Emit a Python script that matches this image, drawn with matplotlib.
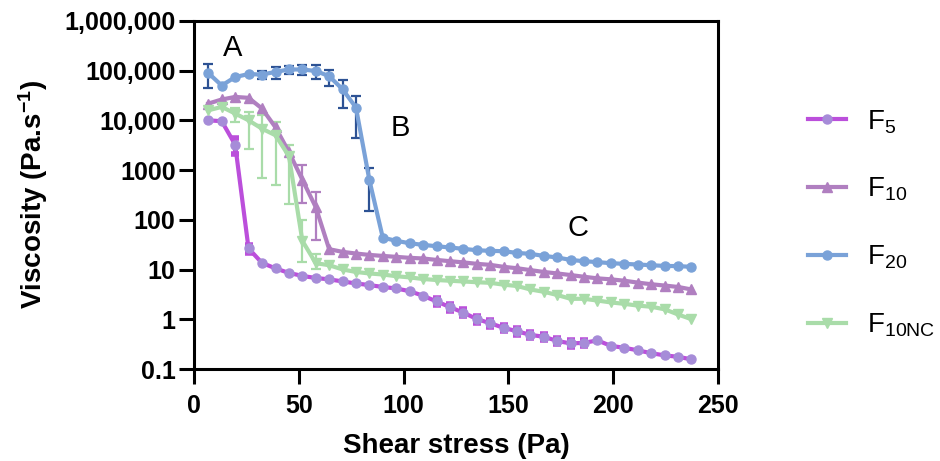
import numpy as np
import matplotlib
matplotlib.use("Agg")
import matplotlib.pyplot as plt
from matplotlib.ticker import FixedLocator, FixedFormatter, NullLocator

plt.rcParams['font.family'] = ['Liberation Sans', 'DejaVu Sans']
plt.rcParams['mathtext.fontset'] = 'custom'
plt.rcParams['mathtext.rm'] = 'Liberation Sans'
plt.rcParams['mathtext.bf'] = 'Liberation Sans:bold'
plt.rcParams['mathtext.it'] = 'Liberation Sans:italic'

# shear stress (Pa), shared by all series
shear = [6.7, 13.1, 19.5, 25.9, 32.3, 38.8, 45.2, 51.6, 58.0, 64.4, 70.8, 77.2,
         83.6, 90.0, 96.4, 102.8, 109.2, 115.7, 122.1, 128.5, 134.9, 141.3,
         147.7, 154.1, 160.5, 166.9, 173.3, 179.7, 186.1, 192.5, 198.9, 205.3,
         211.8, 218.2, 224.6, 231.0, 237.4]

# viscosity (Pa.s-1)
f5 = [10000, 9600, 3250, 26.7, 13.7, 10.6, 8.6, 7.5, 6.8, 6.4, 5.8, 5.3, 4.9,
      4.5, 4.2, 3.7, 3.0, 2.3, 1.77, 1.37, 1.02, 0.84, 0.68, 0.58, 0.49, 0.45,
      0.37, 0.33, 0.34, 0.38, 0.295, 0.27, 0.24, 0.21, 0.19, 0.178, 0.158]
f5_err = [0, 0, 1100, 5, 0, 0, 0, 0, 0, 0, 0, 0, 0, 0, 0, 0, 0, 0.35, 0.28,
          0.22, 0.16, 0.13, 0.1, 0.09, 0.075, 0.07, 0.055, 0.05, 0.05, 0, 0, 0,
          0, 0, 0, 0, 0]

f10 = [21700, 26200, 29500, 28300, 17300, 7200, 2300, 640, 180, 25.8, 22.8,
       21.1, 19.8, 18.9, 18.1, 17.3, 16.8, 15.7, 14.8, 14.0, 13.1, 12.5, 11.4,
       10.7, 9.8, 9.0, 8.4, 7.8, 7.2, 6.7, 6.4, 6.0, 5.5, 5.1, 4.8, 4.5, 4.0]
f10_lo = [0] * 7 + [426, 141] + [0] * 28
f10_up = [0] * 7 + [650, 185] + [0] * 28

f20 = [89000, 50000, 74000, 85000, 83000, 94000, 105000, 105000, 98000, 77000,
       42000, 18000, 630, 44, 38, 34, 31.5, 29.6, 27.9, 26.2, 24.6, 23.9, 23.5,
       21.7, 20.8, 18.9, 17.6, 15.7, 14.8, 14.2, 13.5, 13.1, 12.7, 12.3, 11.9,
       11.8, 11.4]
f20_err = [44000, 0, 0, 0, 14000, 25000, 21000, 25000, 31000, 27000, 24000,
           13500, 480] + [0] * 24

f10nc = [15900, 18600, 13700, 10000, 6800, 5000, 1900, 38, 13.5, 12.3, 10.1,
         9.0, 8.4, 8.0, 7.4, 7.0, 6.5, 6.2, 6.0, 5.8, 5.6, 5.45, 5.0, 4.7, 4.0,
         3.6, 3.1, 2.6, 2.6, 2.4, 2.2, 2.06, 1.9, 1.8, 1.6, 1.26, 1.01]
f10nc_lo = [0, 0, 4400, 7300, 6100, 4500, 1690, 24, 3] + [0] * 28
f10nc_up = [0, 0, 4300, 4700, 5900, 4300, 1270, 60, 7.5] + [0] * 28

yticks = [0.1, 1, 10, 100, 1000, 10000, 100000, 1000000]
ytick_labels = ['0.1', '1', '10', '100', '1000', '10,000', '100,000', '1,000,000']
xticks = [0, 50, 100, 150, 200, 250]

fig = plt.figure(figsize=(9.4, 4.61), dpi=100)
ax = fig.add_axes([0.2067, 0.199, 0.557, 0.756])

x = np.array(shear)


def bars(y, lo, up, color, lw, cs, ct):
    y = np.array(y, float)
    lo = np.array(lo, float)
    up = np.array(up, float)
    m = (lo > 0) | (up > 0)
    ax.errorbar(x[m], y[m], yerr=[lo[m], up[m]], fmt='none', ecolor=color,
                elinewidth=lw, capsize=cs, capthick=ct, zorder=2)


# error bars first, behind the curves
bars(f5, f5_err, f5_err, '#BB4FDB', 3, 3.2, 4)
bars(f10, f10_lo, f10_up, '#B07FC0', 1.6, 3.5, 1.6)
bars(f20, f20_err, f20_err, '#2D5294', 1.6, 3.5, 1.6)
bars(f10nc, f10nc_lo, f10nc_up, '#A9DCA9', 1.6, 3.5, 1.6)

l5, = ax.plot(x, f5, color='#BB4FDB', lw=3, marker='o', ms=6.5,
              mfc='#A68CD8', mec='#A68CD8', zorder=3)
l10, = ax.plot(x, f10, color='#B07FC0', lw=3, marker='^', ms=6.5,
               mfc='#B07FC0', mec='#B07FC0', zorder=3)
l20, = ax.plot(x, f20, color='#7AA2D8', lw=3, marker='o', ms=6.5,
               mfc='#7AA2D8', mec='#7AA2D8', zorder=3)
l10nc, = ax.plot(x, f10nc, color='#A9DCA9', lw=3, marker='v', ms=6.5,
                 mfc='#A9DCA9', mec='#A9DCA9', zorder=3)

ax.set_yscale('log')
ax.set_ylim(0.1, 1000000)
ax.set_xlim(0, 250)
ax.yaxis.set_major_locator(FixedLocator(yticks))
ax.yaxis.set_major_formatter(FixedFormatter(ytick_labels))
ax.yaxis.set_minor_locator(NullLocator())
ax.set_xticks(xticks)

for s in ax.spines.values():
    s.set_linewidth(2.2)
ax.tick_params(axis='both', which='major', direction='out', length=10.5,
               width=2.2, labelsize=18)
ax.tick_params(axis='y', pad=3)
ax.tick_params(axis='x', pad=7)
for t in ax.get_xticklabels() + ax.get_yticklabels():
    t.set_fontweight('bold')

ax.set_xlabel('Shear stress (Pa)', fontsize=20, fontweight='bold', labelpad=11)
ax.set_ylabel(r'Viscosity (Pa.s$^{\mathbf{-1}}$)', fontsize=20,
              fontweight='bold', labelpad=10)

ax.text(18.5, 2.9e5, 'A', fontsize=21, ha='center', va='center')
ax.text(98.2, 6900, 'B', fontsize=21, ha='center', va='center')
ax.text(183.2, 68, 'C', fontsize=21, ha='center', va='center')

fig.legend([l5, l10, l20, l10nc],
           [r'F$_{\mathrm{5}}$', r'F$_{\mathrm{10}}$', r'F$_{\mathrm{20}}$',
            r'F$_{\mathrm{10NC}}$'],
           loc='center left', bbox_to_anchor=(0.86, 0.515), frameon=False,
           fontsize=20, labelspacing=1.45, handlelength=1.35,
           handletextpad=0.75, borderpad=0, borderaxespad=0, numpoints=1)

fig.savefig('out.png', dpi=100)
